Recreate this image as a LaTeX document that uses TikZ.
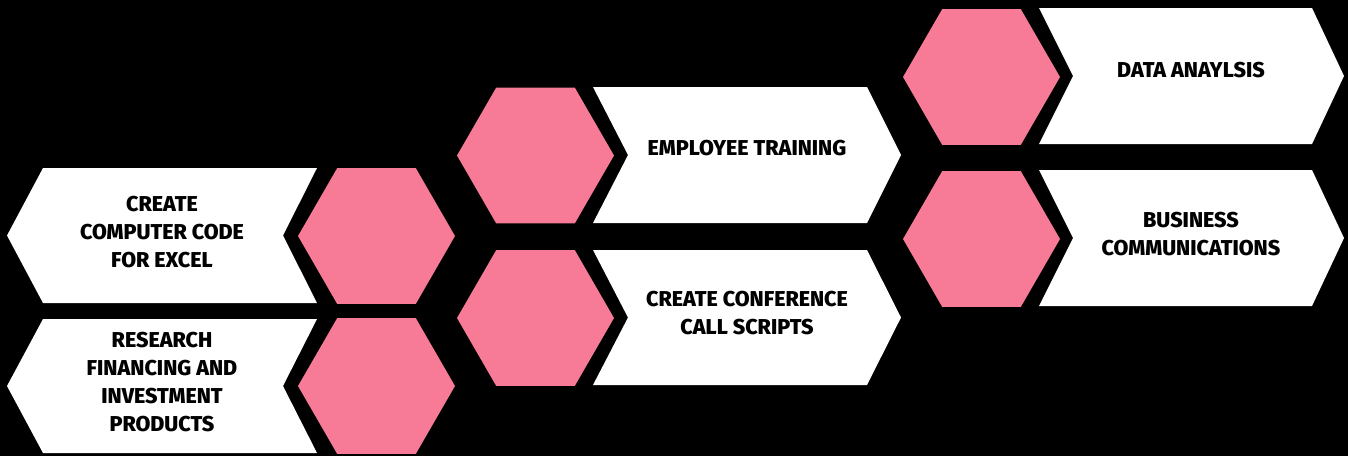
\documentclass[tikz,border=0pt]{standalone}
\usepackage{fontspec}
\newfontfamily\labfont{Fira Sans}[BoldFont={Fira Sans ExtraBold}]
\usetikzlibrary{shapes.geometric}
\definecolor{hexpink}{HTML}{F77A96}
\tikzset{
  hexa/.style={regular polygon, regular polygon sides=6,
    minimum size=157pt, inner sep=0pt, fill=hexpink, draw=none},
  banner/.style={fill=white, draw=none},
  lbl/.style={align=center, text=black, inner sep=0pt,
    font=\labfont\bfseries\fontsize{21.5}{28}\selectfont}
}
\begin{document}
\begin{tikzpicture}[x=1pt,y=-1pt]
\fill[black] (0,0) rectangle (1348,456);
\useasboundingbox (0,0) rectangle (1348,456);
% banners
\fill[banner] (7,235.5) -- (43,168) -- (317,168) -- (283,235.5) -- (317,303) -- (43,303) -- cycle;
\fill[banner] (7,386) -- (43,319) -- (317,319) -- (283,386) -- (317,453) -- (43,453) -- cycle;
\fill[banner] (593,87) -- (867,87) -- (901,155) -- (867,223) -- (593,223) -- (628,155) -- cycle;
\fill[banner] (593,250) -- (867,250) -- (901,317.5) -- (867,385) -- (593,385) -- (628,317.5) -- cycle;
\fill[banner] (1039,8) -- (1312,8) -- (1344,76) -- (1312,144) -- (1039,144) -- (1073,76) -- cycle;
\fill[banner] (1039,170) -- (1312,170) -- (1344,238) -- (1312,306) -- (1039,306) -- (1073,238) -- cycle;
% hexagons
\node[hexa] (h1) at (376.5,236) {};
\node[hexa] (h2) at (376.5,386) {};
\node[hexa] (h3) at (535.5,155.5) {};
\node[hexa] (h4) at (535.5,318) {};
\node[hexa] (h5) at (981.5,77) {};
\node[hexa] (h6) at (981.5,239) {};
% labels
\node[lbl] (t1) at (162,232) {CREATE\\COMPUTER CODE\\FOR EXCEL};
\node[lbl] (t2) at (162,382) {RESEARCH\\FINANCING AND\\INVESTMENT\\PRODUCTS};
\node[lbl] (t3) at (747,148) {EMPLOYEE TRAINING};
\node[lbl] (t4) at (747,313) {CREATE CONFERENCE\\CALL SCRIPTS};
\node[lbl] (t5) at (1191,70) {DATA ANAYLSIS};
\node[lbl] (t6) at (1191,234) {BUSINESS\\COMMUNICATIONS};
\end{tikzpicture}
\end{document}
